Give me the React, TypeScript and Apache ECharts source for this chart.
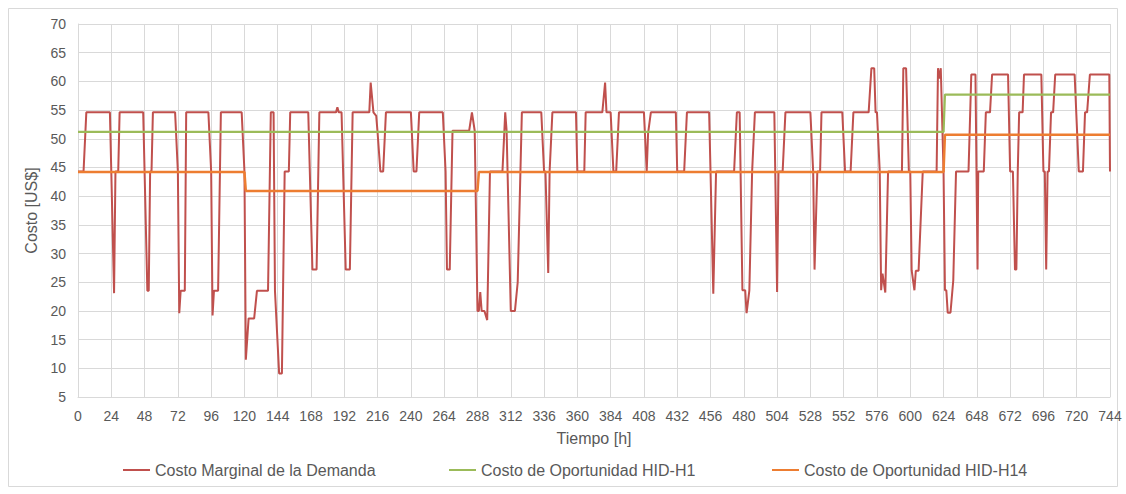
import React, { useEffect, useRef } from "react";
import * as echarts from "echarts";

// Hourly marginal cost of demand (breakpoints: [hour, US$])
const demandPoints: [number, number][] = [
  [0, 44.3], [4, 44.3], [6, 54.6], [23, 54.6], [24, 44.3], [26, 23.1], [27, 44.3], [29, 44.3], [30, 54.6],
  [47, 54.6], [48, 44.3], [50, 23.5], [51, 23.5], [52, 44.3], [53, 44.3], [54, 54.6],
  [70, 54.6], [72, 44.3], [73, 19.6], [74, 23.5], [77, 23.5], [78, 54.6],
  [94, 54.6], [96, 44.3], [97, 19.2], [98, 23.5], [101, 23.5], [103, 54.6],
  [118, 54.6], [120, 44.3], [121, 11.5], [123, 18.7], [127, 18.7], [129, 23.5], [137, 23.5], [139, 54.6],
  [141, 54.6], [142, 23.5], [145, 9.1], [147, 9.1], [149, 44.3], [152, 44.3], [153, 54.6],
  [166, 54.6], [169, 27.2], [172, 27.2], [174, 54.6],
  [186, 54.6], [187, 55.5], [188, 54.6], [190, 54.6], [193, 27.2], [196, 27.2], [198, 54.6],
  [210, 54.6], [211, 59.8], [213, 54.6], [215, 54.0], [216, 51.0], [218, 44.3], [220, 44.3], [222, 54.6],
  [240, 54.6], [242, 44.3], [244, 44.3], [246, 54.6],
  [263, 54.6], [265, 44.3], [266, 27.2], [268, 27.2], [270, 51.4], [282, 51.4], [284, 54.6], [286, 51.4],
  [288, 20.0], [289, 20.0], [290, 23.3], [291, 20.0], [293, 20.0], [295, 18.4], [297, 44.3], [306, 44.3],
  [308, 54.6], [309, 51.4], [312, 20.0], [315, 20.0], [317, 25.0], [320, 54.6],
  [334, 54.6], [336, 44.3], [337, 44.3], [339, 26.6], [340, 44.3], [342, 54.6],
  [359, 54.6], [360, 44.3], [365, 44.3], [366, 54.6],
  [378, 54.6], [380, 59.8], [381, 54.6], [384, 54.6], [386, 44.3], [388, 44.3], [390, 54.6],
  [408, 54.6], [410, 44.3], [411, 51.0], [413, 54.6],
  [431, 54.6], [432, 44.3], [437, 44.3], [439, 54.6],
  [455, 54.6], [456, 44.3], [458, 23.0], [460, 44.3], [473, 44.3], [475, 54.6], [477, 54.6],
  [479, 23.6], [481, 23.6], [482, 19.6], [484, 23.6], [486, 44.3], [488, 54.6],
  [502, 54.6], [504, 23.3], [505, 44.3], [508, 44.3], [510, 54.6],
  [528, 54.6], [530, 44.3], [531, 27.2], [533, 44.3], [535, 44.3], [536, 54.6],
  [551, 54.6], [553, 44.3], [557, 44.3], [559, 54.6],
  [570, 54.6], [572, 62.3], [574, 62.3], [575, 54.6], [576, 54.6], [578, 44.3], [579, 23.6], [580, 26.5],
  [582, 23.2], [584, 44.3], [594, 44.3], [595, 62.3], [597, 62.3], [599, 44.3], [600, 44.3], [601, 27.1],
  [603, 23.6], [604, 27.0], [606, 27.0], [609, 44.3], [619, 44.3], [620, 62.3], [621, 60.5], [622, 62.3],
  [624, 44.3], [625, 23.6], [626, 23.6], [627, 19.7], [629, 19.7], [631, 25.3], [633, 44.3], [642, 44.3],
  [644, 61.2], [647, 61.2], [648.5, 27.2], [649, 44.3], [653, 44.3], [654.5, 54.6], [657.5, 54.6], [659, 61.2],
  [670.5, 61.2], [672, 44.3], [674, 44.3], [675.5, 27.2], [676.5, 27.2], [677.5, 44.3], [678.5, 54.6], [681, 54.6], [682, 61.2],
  [694.5, 61.2], [696, 44.3], [697, 44.3], [698, 27.2], [699, 44.3], [700, 44.3], [701.5, 54.6], [703, 54.6], [704.5, 61.2],
  [718.5, 61.2], [721.5, 44.3], [724.5, 44.3], [726, 54.6], [727.5, 54.6], [729.5, 61.2], [743.5, 61.2], [744, 44.3],
];

// Opportunity cost HID-H1
const h1Points: [number, number][] = [
  [0, 51.2], [624, 51.2], [625, 57.7], [744, 57.7],
];

// Opportunity cost HID-H14
const h14Points: [number, number][] = [
  [0, 44.2], [120, 44.2], [121, 40.9], [288, 40.9], [289, 44.2], [624, 44.2], [625, 50.7], [744, 50.7],
];

const seriesNames = [
  "Costo Marginal de la Demanda",
  "Costo de Oportunidad HID-H1",
  "Costo de Oportunidad HID-H14",
];
const xMin = 0;
const xMax = 744;
const xStep = 24;
const yMin = 5;
const yMax = 70;
const yStep = 5;

const FONT = "'Liberation Sans', Arial, sans-serif";
const TEXT = "#595959";
const GRID = "#d9d9d9";
const COLORS = ["#C0504D", "#9BBB59", "#ED7D31"];

export default function App() {
  const ref = useRef<HTMLDivElement>(null);

  useEffect(() => {
    if (!ref.current) return;
    const chart = echarts.init(ref.current, undefined, { renderer: "svg" });
    const legendLefts = [123, 449, 772];
    chart.setOption({
      animation: false,
      backgroundColor: "#ffffff",
      textStyle: { fontFamily: FONT },
      grid: { left: 78, right: 16, top: 24, bottom: 97, containLabel: false },
      graphic: [
        {
          type: "rect",
          shape: { x: 8.5, y: 8.5, width: 1109, height: 478 },
          style: { fill: "none", stroke: GRID, lineWidth: 1 },
          silent: true,
        },
      ],
      legend: seriesNames.map((n, i) => ({
        data: [n],
        left: legendLefts[i],
        top: 462,
        padding: 0,
        icon: "rect",
        itemWidth: 27,
        itemHeight: 2,
        itemGap: 0,
        textStyle: { color: TEXT, fontSize: 16, fontFamily: FONT },
        selectedMode: false,
      })),
      xAxis: {
        type: "value",
        min: xMin,
        max: xMax,
        interval: xStep,
        name: "Tiempo [h]",
        nameLocation: "middle",
        nameGap: 33,
        nameTextStyle: { color: TEXT, fontSize: 16, fontFamily: FONT },
        axisLine: { show: true, lineStyle: { color: GRID } },
        axisTick: { show: false },
        axisLabel: { color: TEXT, fontSize: 14, fontFamily: FONT, margin: 12 },
        splitLine: { show: true, lineStyle: { color: GRID, width: 1 } },
      },
      yAxis: {
        type: "value",
        min: yMin,
        max: yMax,
        interval: yStep,
        name: "Costo [US$]",
        nameLocation: "middle",
        nameGap: 35,
        nameTextStyle: { color: TEXT, fontSize: 16, fontFamily: FONT },
        axisLine: { show: true, lineStyle: { color: GRID } },
        axisTick: { show: false },
        axisLabel: { color: TEXT, fontSize: 14, fontFamily: FONT, margin: 12 },
        splitLine: { show: true, lineStyle: { color: GRID, width: 1 } },
      },
      series: [
        {
          name: seriesNames[0],
          type: "line",
          data: demandPoints,
          showSymbol: false,
          symbol: "none",
          lineStyle: { color: COLORS[0], width: 2 },
          itemStyle: { color: COLORS[0] },
        },
        {
          name: seriesNames[1],
          type: "line",
          data: h1Points,
          showSymbol: false,
          symbol: "none",
          lineStyle: { color: COLORS[1], width: 2.25 },
          itemStyle: { color: COLORS[1] },
        },
        {
          name: seriesNames[2],
          type: "line",
          data: h14Points,
          showSymbol: false,
          symbol: "none",
          lineStyle: { color: COLORS[2], width: 2.5 },
          itemStyle: { color: COLORS[2] },
        },
      ],
    });
    return () => chart.dispose();
  }, []);

  return (
    <div
      ref={ref}
      style={{ position: "fixed", left: 0, top: 0, width: 1126, height: 494 }}
    />
  );
}
